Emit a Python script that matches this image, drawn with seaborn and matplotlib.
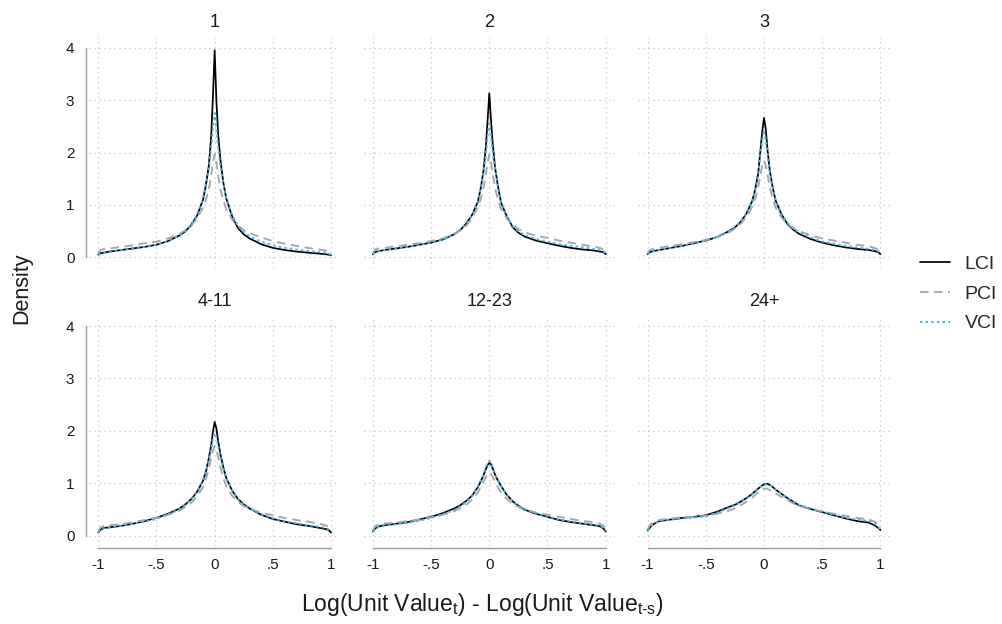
import matplotlib
matplotlib.use("Agg")
import matplotlib.pyplot as plt
from matplotlib.lines import Line2D
import pandas as pd
import seaborn as sns

# Evaluation points of the kernel density estimates
x_grid = [-1, -0.98, -0.95, -0.9, -0.8, -0.7, -0.6, -0.5, -0.4, -0.3, -0.25, -0.2,
          -0.15, -0.1, -0.075, -0.05, -0.03, -0.015, 0, 0.015, 0.03, 0.05, 0.075,
          0.1, 0.15, 0.2, 0.25, 0.3, 0.4, 0.5, 0.6, 0.7, 0.8, 0.9, 0.95, 0.98, 1]

panel_titles = ["1", "2", "3", "4-11", "12-23", "24+"]
series_names = ["LCI", "PCI", "VCI"]

# Horizon 1
lci_1 = [0.05, 0.08, 0.09, 0.11, 0.14, 0.17, 0.20, 0.24, 0.31, 0.42, 0.50, 0.62,
         0.80, 1.10, 1.38, 1.75, 2.30, 3.05, 3.95, 3.00, 2.35, 1.85, 1.42,
         1.12, 0.78, 0.56, 0.44, 0.36, 0.25, 0.18, 0.14, 0.11, 0.09, 0.07, 0.06, 0.05, 0.04]
pci_1 = [0.08, 0.14, 0.16, 0.17, 0.20, 0.23, 0.27, 0.30, 0.36, 0.45, 0.52, 0.60,
         0.75, 0.95, 1.10, 1.30, 1.55, 1.80, 1.97, 1.80, 1.55, 1.30, 1.08,
         0.92, 0.72, 0.60, 0.52, 0.46, 0.38, 0.31, 0.26, 0.22, 0.18, 0.15, 0.13, 0.11, 0.07]
vci_1 = [0.05, 0.07, 0.09, 0.11, 0.14, 0.17, 0.20, 0.24, 0.31, 0.42, 0.50, 0.63,
         0.82, 1.12, 1.38, 1.70, 2.10, 2.45, 2.75, 2.45, 2.10, 1.75, 1.40,
         1.12, 0.80, 0.60, 0.48, 0.40, 0.30, 0.23, 0.18, 0.15, 0.12, 0.10, 0.09, 0.07, 0.05]

# Horizon 2
lci_2 = [0.06, 0.10, 0.12, 0.14, 0.17, 0.20, 0.24, 0.28, 0.34, 0.44, 0.52, 0.64,
         0.80, 1.05, 1.30, 1.65, 2.10, 2.60, 3.13, 2.60, 2.15, 1.70, 1.35,
         1.05, 0.78, 0.58, 0.47, 0.40, 0.32, 0.27, 0.22, 0.18, 0.15, 0.13, 0.11, 0.10, 0.06]
pci_2 = [0.08, 0.15, 0.17, 0.18, 0.21, 0.24, 0.27, 0.31, 0.36, 0.45, 0.52, 0.60,
         0.74, 0.95, 1.10, 1.32, 1.58, 1.80, 1.96, 1.80, 1.58, 1.32, 1.10,
         0.93, 0.74, 0.62, 0.54, 0.48, 0.41, 0.37, 0.32, 0.28, 0.24, 0.20, 0.18, 0.15, 0.08]
vci_2 = [0.06, 0.10, 0.12, 0.14, 0.17, 0.20, 0.24, 0.28, 0.34, 0.44, 0.52, 0.64,
         0.80, 1.05, 1.30, 1.62, 1.95, 2.30, 2.55, 2.30, 2.00, 1.68, 1.35,
         1.06, 0.79, 0.60, 0.50, 0.43, 0.35, 0.30, 0.25, 0.22, 0.19, 0.16, 0.14, 0.12, 0.07]

# Horizon 3
lci_3 = [0.06, 0.10, 0.12, 0.14, 0.18, 0.22, 0.27, 0.32, 0.39, 0.50, 0.57, 0.68,
         0.84, 1.08, 1.30, 1.60, 2.05, 2.40, 2.66, 2.45, 2.05, 1.65, 1.33,
         1.08, 0.82, 0.64, 0.53, 0.45, 0.35, 0.28, 0.23, 0.19, 0.16, 0.14, 0.12, 0.10, 0.06]
pci_3 = [0.08, 0.14, 0.16, 0.18, 0.22, 0.25, 0.29, 0.33, 0.39, 0.48, 0.55, 0.64,
         0.77, 0.97, 1.12, 1.33, 1.58, 1.75, 1.85, 1.75, 1.58, 1.33, 1.12,
         0.95, 0.76, 0.64, 0.56, 0.50, 0.42, 0.36, 0.32, 0.28, 0.24, 0.21, 0.18, 0.15, 0.08]
vci_3 = [0.06, 0.10, 0.12, 0.14, 0.18, 0.22, 0.27, 0.32, 0.39, 0.50, 0.57, 0.68,
         0.84, 1.08, 1.30, 1.58, 1.98, 2.25, 2.43, 2.25, 1.98, 1.62, 1.32,
         1.08, 0.83, 0.66, 0.55, 0.48, 0.38, 0.30, 0.26, 0.22, 0.19, 0.16, 0.14, 0.12, 0.07]

# Horizon 4-11
lci_4 = [0.06, 0.12, 0.15, 0.16, 0.19, 0.23, 0.28, 0.34, 0.42, 0.52, 0.60, 0.70,
         0.84, 1.05, 1.22, 1.48, 1.72, 1.98, 2.17, 2.05, 1.80, 1.55, 1.30,
         1.10, 0.86, 0.70, 0.60, 0.52, 0.40, 0.32, 0.27, 0.22, 0.19, 0.15, 0.13, 0.11, 0.06]
pci_4 = [0.08, 0.16, 0.19, 0.20, 0.22, 0.26, 0.30, 0.34, 0.40, 0.48, 0.55, 0.63,
         0.76, 0.93, 1.08, 1.28, 1.48, 1.62, 1.71, 1.64, 1.50, 1.30, 1.10,
         0.95, 0.76, 0.65, 0.57, 0.51, 0.44, 0.39, 0.34, 0.30, 0.27, 0.23, 0.20, 0.17, 0.10]
vci_4 = [0.06, 0.11, 0.14, 0.16, 0.19, 0.23, 0.27, 0.32, 0.41, 0.51, 0.59, 0.70,
         0.84, 1.05, 1.22, 1.45, 1.65, 1.85, 1.96, 1.88, 1.72, 1.50, 1.28,
         1.10, 0.86, 0.71, 0.61, 0.53, 0.41, 0.33, 0.28, 0.24, 0.20, 0.17, 0.15, 0.12, 0.07]

# Horizon 12-23
lci_5 = [0.08, 0.14, 0.18, 0.20, 0.23, 0.26, 0.31, 0.36, 0.43, 0.52, 0.58, 0.66,
         0.76, 0.92, 1.03, 1.15, 1.27, 1.35, 1.39, 1.36, 1.28, 1.16, 1.05,
         0.95, 0.78, 0.66, 0.57, 0.50, 0.42, 0.36, 0.30, 0.26, 0.23, 0.20, 0.18, 0.14, 0.08]
pci_5 = [0.10, 0.18, 0.21, 0.23, 0.25, 0.28, 0.31, 0.35, 0.40, 0.47, 0.52, 0.59,
         0.68, 0.82, 0.92, 1.03, 1.12, 1.18, 1.21, 1.18, 1.12, 1.02, 0.92,
         0.83, 0.70, 0.61, 0.55, 0.50, 0.44, 0.40, 0.36, 0.32, 0.28, 0.26, 0.23, 0.19, 0.11]
vci_5 = [0.08, 0.13, 0.17, 0.19, 0.22, 0.25, 0.29, 0.34, 0.41, 0.49, 0.56, 0.64,
         0.75, 0.92, 1.04, 1.17, 1.30, 1.39, 1.43, 1.39, 1.30, 1.17, 1.05,
         0.95, 0.78, 0.66, 0.58, 0.51, 0.43, 0.37, 0.31, 0.27, 0.24, 0.21, 0.19, 0.15, 0.09]

# Horizon 24+
lci_6 = [0.10, 0.16, 0.22, 0.28, 0.31, 0.34, 0.36, 0.39, 0.46, 0.55, 0.59, 0.65,
         0.72, 0.80, 0.85, 0.90, 0.93, 0.96, 0.98, 0.99, 0.99, 0.97, 0.93,
         0.88, 0.80, 0.72, 0.65, 0.58, 0.51, 0.45, 0.39, 0.33, 0.28, 0.25, 0.20, 0.15, 0.11]
pci_6 = [0.12, 0.20, 0.26, 0.30, 0.33, 0.35, 0.36, 0.38, 0.42, 0.48, 0.52, 0.58,
         0.65, 0.73, 0.78, 0.83, 0.87, 0.89, 0.90, 0.90, 0.89, 0.87, 0.84,
         0.81, 0.74, 0.68, 0.62, 0.57, 0.51, 0.46, 0.42, 0.38, 0.34, 0.31, 0.27, 0.22, 0.14]
vci_6 = [0.10, 0.16, 0.22, 0.28, 0.31, 0.33, 0.35, 0.37, 0.44, 0.53, 0.58, 0.64,
         0.71, 0.80, 0.85, 0.90, 0.93, 0.96, 0.98, 0.98, 0.98, 0.96, 0.93,
         0.88, 0.80, 0.72, 0.65, 0.59, 0.52, 0.46, 0.40, 0.34, 0.31, 0.28, 0.23, 0.17, 0.12]

x_ticks = [-1, -0.5, 0, 0.5, 1]
x_tick_labels = ["-1", "-.5", "0", ".5", "1"]
y_ticks = [0, 1, 2, 3, 4]
y_tick_labels = ["0", "1", "2", "3", "4"]

curves = {
    "1": (lci_1, pci_1, vci_1),
    "2": (lci_2, pci_2, vci_2),
    "3": (lci_3, pci_3, vci_3),
    "4-11": (lci_4, pci_4, vci_4),
    "12-23": (lci_5, pci_5, vci_5),
    "24+": (lci_6, pci_6, vci_6),
}

records = []
for window, series in curves.items():
    for name, values in zip(series_names, series):
        for xv, yv in zip(x_grid, values):
            records.append((window, name, xv, yv))
df = pd.DataFrame(records, columns=["window", "index", "x", "density"])

# Styling
sns.set_style("white")
plt.rcParams["font.family"] = ["Liberation Sans", "DejaVu Sans"]
plt.rcParams["mathtext.fontset"] = "custom"
plt.rcParams["mathtext.rm"] = "Liberation Sans"
plt.rcParams["mathtext.it"] = "Liberation Sans:italic"

palette = {"LCI": "#000000", "PCI": "#a6a6a6", "VCI": "#4db3e6"}
dashes = {"LCI": "", "PCI": (4.5, 3.0), "VCI": (1.2, 1.6)}
widths = {"LCI": 1.25, "PCI": 1.35, "VCI": 1.45}
axis_gray = "#9a9a9a"
grid_gray = "#c4c4c4"
text_color = "#1a1a1a"

W, H = 1002, 624
fig = plt.figure(figsize=(W / 100, H / 100), dpi=100)

col_lr = [(89.0, 340.3), (363.6, 615.0), (638.3, 889.7)]
row_tb = [(37.2, 267.8), (315.6, 546.2)]

for i, window in enumerate(panel_titles):
    r, c = divmod(i, 3)
    left, right = col_lr[c]
    top, bottom = row_tb[r]
    ax = fig.add_axes([left / W, 1 - bottom / H, (right - left) / W, (bottom - top) / H])

    sub = df[df["window"] == window]
    sns.lineplot(data=sub, x="x", y="density", hue="index", style="index",
                 hue_order=series_names, style_order=series_names,
                 palette=palette, dashes=dashes, estimator=None, sort=False,
                 legend=False, ax=ax)
    for line, name in zip(ax.get_lines(), series_names):
        line.set_linewidth(widths[name])
        line.set_solid_joinstyle("round")
        line.set_dash_capstyle("butt")

    ax.set_xlim(-1.08, 1.08)
    ax.set_ylim(-0.2, 4.2)
    ax.set_xticks(x_ticks)
    ax.set_xticklabels(x_tick_labels)
    ax.set_yticks(y_ticks)
    ax.set_yticklabels(y_tick_labels)
    ax.set_xlabel("")
    ax.set_ylabel("")
    ax.set_title(window, fontsize=13, pad=7, color=text_color)

    ax.grid(True, color=grid_gray, linestyle=(0, (1.0, 3.0)), linewidth=0.9)
    ax.set_axisbelow(True)

    for side in ("top", "right"):
        ax.spines[side].set_visible(False)

    if c == 0:
        ax.spines["left"].set_position(("outward", 2.5))
        ax.spines["left"].set_bounds(0, 4)
        ax.spines["left"].set_color(axis_gray)
        ax.spines["left"].set_linewidth(1.0)
        ax.tick_params(axis="y", length=5, width=1.0, color=axis_gray,
                       labelsize=11, pad=3, labelcolor=text_color)
    else:
        ax.spines["left"].set_visible(False)
        ax.tick_params(axis="y", length=0, labelleft=False)

    if r == 1:
        ax.spines["bottom"].set_position(("outward", 1.2))
        ax.spines["bottom"].set_bounds(-1, 1)
        ax.spines["bottom"].set_color(axis_gray)
        ax.spines["bottom"].set_linewidth(1.0)
        ax.tick_params(axis="x", length=5, width=1.0, color=axis_gray,
                       labelsize=11, pad=2.5, labelcolor=text_color)
    else:
        ax.spines["bottom"].set_visible(False)
        ax.tick_params(axis="x", length=0, labelbottom=False)

fig.text(22 / W, 1 - 288 / H, "Density", rotation=90, ha="center", va="center",
         fontsize=15.5, color=text_color)
fig.text(482 / W, 1 - 605 / H,
         r"Log(Unit Value$_\mathregular{t}$) - Log(Unit Value$_\mathregular{t\text{-}s}$)",
         ha="center", va="center", fontsize=16.5, color=text_color)

handles = [Line2D([], [], color=palette["LCI"], linewidth=widths["LCI"]),
           Line2D([], [], color=palette["PCI"], linewidth=widths["PCI"],
                  dashes=dashes["PCI"]),
           Line2D([], [], color=palette["VCI"], linewidth=widths["VCI"],
                  dashes=dashes["VCI"])]
fig.legend(handles, series_names, loc="center left",
           bbox_to_anchor=(920 / W, 1 - 294 / H), frameon=False,
           fontsize=14, handlelength=1.55, handletextpad=0.75,
           labelspacing=0.62, borderaxespad=0, borderpad=0)

fig.savefig("out.png", dpi=100)
